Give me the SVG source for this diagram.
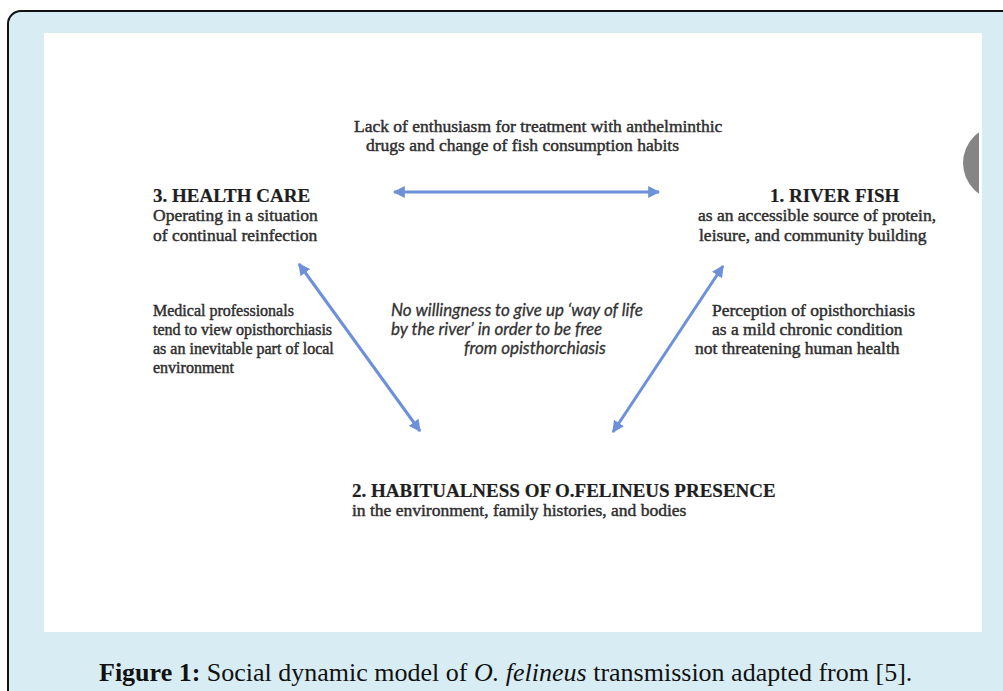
<svg xmlns="http://www.w3.org/2000/svg" width="1003" height="691" viewBox="0 0 1003 691">
<defs>
<style>
.h{font-family:"Liberation Serif",serif;font-weight:bold;font-size:19px;fill:#1e1e1e;stroke:#1e1e1e;stroke-width:0.2}
.b{font-family:"Liberation Serif",serif;font-size:17.5px;fill:#2e2e2e;stroke:#2e2e2e;stroke-width:0.45}
.s{font-size:16px}
.i{font-family:Lato,"Open Sans",sans-serif;font-style:italic;font-size:17px;fill:#333;stroke:#333;stroke-width:0.3}
.cap{font-family:"Liberation Serif",serif;font-size:26px;fill:#111}
.conn{stroke:#6d90d8;stroke-width:3;fill:none;marker-start:url(#ah);marker-end:url(#ah)}
</style>
<marker id="ah" viewBox="0 0 10 10" refX="9" refY="5" markerWidth="4" markerHeight="4" orient="auto-start-reverse">
<path d="M0,0 L10,5 L0,10 z" fill="#6d90d8"/>
</marker>
<clipPath id="cw"><rect x="44" y="33" width="935" height="599"/></clipPath>
</defs>
<rect x="8" y="11" width="1020" height="700" rx="13" fill="#d8edf3" stroke="#111" stroke-width="2"/>
<rect x="44" y="33" width="938" height="599" fill="#ffffff"/>
<circle cx="1000.5" cy="163" r="37.5" fill="#858585" clip-path="url(#cw)"/>
<g id="connectors">
<line class="conn" x1="394" y1="192" x2="659" y2="192"/>
<line class="conn" x1="299" y1="264" x2="420" y2="431"/>
<line class="conn" x1="723" y1="266" x2="613" y2="432"/>
</g>
<g id="label-top">
<text class="b" x="354" y="132">Lack of enthusiasm for treatment with anthelminthic</text>
<text class="b" x="366" y="151">drugs and change of fish consumption habits</text>
</g>
<g id="node-health-care">
<text class="h" x="153" y="202">3. HEALTH CARE</text>
<text class="b" x="153" y="221">Operating in a situation</text>
<text class="b" x="153" y="241">of continual reinfection</text>
</g>
<g id="node-river-fish">
<text class="h" x="770" y="202">1. RIVER FISH</text>
<text class="b" x="698" y="221">as an accessible source of protein,</text>
<text class="b" x="699" y="241">leisure, and community building</text>
</g>
<g id="label-left">
<text class="b s" x="153" y="316">Medical professionals</text>
<text class="b s" x="153" y="335">tend to view opisthorchiasis</text>
<text class="b s" x="153" y="354">as an inevitable part of local</text>
<text class="b s" x="153" y="373">environment</text>
</g>
<g id="label-center">
<text class="i" x="391" y="316">No willingness to give up ‘way of life</text>
<text class="i" x="391" y="335">by the river’ in order to be free</text>
<text class="i" x="464" y="354">from opisthorchiasis</text>
</g>
<g id="label-right">
<text class="b" x="712" y="316">Perception of opisthorchiasis</text>
<text class="b" x="712" y="335">as a mild chronic condition</text>
<text class="b" x="695" y="354">not threatening human health</text>
</g>
<g id="node-habitualness">
<text class="h" x="352" y="497">2. HABITUALNESS OF O.FELINEUS PRESENCE</text>
<text class="b" x="352" y="516">in the environment, family histories, and bodies</text>
</g>
<g id="caption">
<text class="cap" x="99" y="681"><tspan font-weight="bold">Figure 1:</tspan> Social dynamic model of <tspan font-style="italic">O. felineus</tspan> transmission adapted from [5].</text>
</g>
</svg>
